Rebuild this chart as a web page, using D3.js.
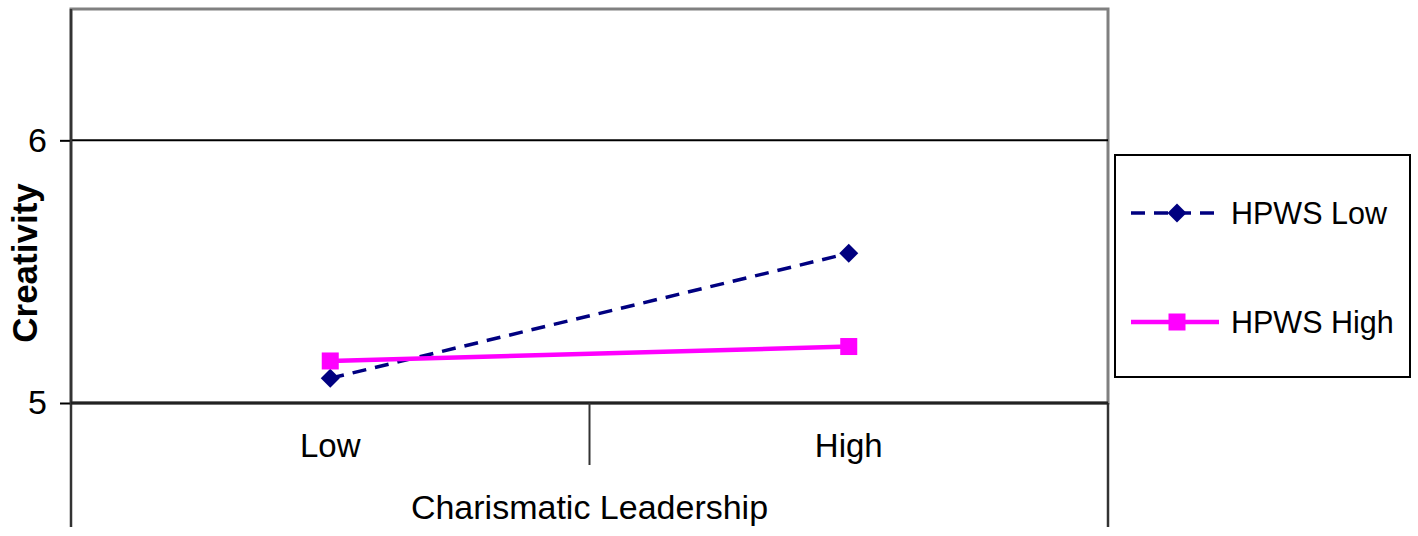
<!DOCTYPE html>
<html>
<head>
<meta charset="utf-8">
<script src="https://cdn.jsdelivr.net/npm/d3@7"></script>
<style>
html,body{margin:0;padding:0;background:#fff;}
svg{display:block;font-family:"Liberation Sans",Arial,sans-serif;}
</style>
</head>
<body>
<svg id="chart" width="1418" height="536"></svg>
<script>
const categories = ["Low", "High"];
const seriesNames = ["HPWS Low", "HPWS High"];
const hpwsLow = [5.094, 5.57];
const hpwsHigh = [5.16, 5.215];
const yTicks = [5, 6];
const yDomain = [5, 6.5];
const xTitle = "Charismatic Leadership";
const yTitle = "Creativity";

const svg = d3.select("#chart");
const L = 71, R = 1108, T = 9, B = 403;

const x = d3.scaleBand().domain(categories).range([L, R]).padding(0);
const y = d3.scaleLinear().domain(yDomain).range([B, T]);

// plot area border (grey)
svg.append("rect").attr("x", L).attr("y", T).attr("width", R - L).attr("height", B - T)
  .attr("fill", "none").attr("stroke", "#808080").attr("stroke-width", 3);

// gridline at 6
svg.append("g").selectAll("line").data(yTicks.filter(d => d !== yDomain[0])).join("line")
  .attr("x1", L).attr("x2", R).attr("y1", d => y(d)).attr("y2", d => y(d))
  .attr("stroke", "#000").attr("stroke-width", 2);

// y axis
const yAxis = d3.axisLeft(y).tickValues(yTicks).tickSize(11).tickPadding(13).tickFormat(d3.format("d"));
const gy = svg.append("g").attr("transform", `translate(${L},0)`).call(yAxis);
gy.select(".domain").remove();
gy.selectAll(".tick line").attr("stroke", "#000").attr("stroke-width", 2);
gy.selectAll(".tick text").attr("font-size", 34).attr("fill", "#000")
  .attr("font-family", "Liberation Sans, Arial, sans-serif");

// left axis line extends down
svg.append("line").attr("x1", L).attr("x2", L).attr("y1", T).attr("y2", 527)
  .attr("stroke", "#333").attr("stroke-width", 2.5);
svg.append("line").attr("x1", R).attr("x2", R).attr("y1", B).attr("y2", 527)
  .attr("stroke", "#333").attr("stroke-width", 2.5);
// x axis line
svg.append("line").attr("x1", L).attr("x2", R).attr("y1", B).attr("y2", B)
  .attr("stroke", "#222").attr("stroke-width", 3);
// category separator tick
svg.append("g").selectAll("line").data(categories.slice(1)).join("line")
  .attr("x1", d => x(d)).attr("x2", d => x(d)).attr("y1", B).attr("y2", 465)
  .attr("stroke", "#333").attr("stroke-width", 2);

// category labels
svg.append("g").selectAll("text").data(categories).join("text")
  .attr("x", d => x(d) + x.bandwidth() / 2).attr("y", 457)
  .attr("text-anchor", "middle").attr("font-size", 33).attr("fill", "#000")
  .text(d => d);

// x title
svg.append("text").attr("x", (L + R) / 2).attr("y", 519).attr("text-anchor", "middle")
  .attr("font-size", 34).attr("fill", "#000").text(xTitle);

// y title
svg.append("text").attr("transform", `translate(37,263) rotate(-90)`).attr("text-anchor", "middle")
  .attr("font-size", 35).attr("font-weight", "bold").attr("fill", "#000").text(yTitle);

const cx = d => x(d) + x.bandwidth() / 2;
const line = d3.line().x(d => cx(d.c)).y(d => y(d.v));
const lowData = categories.map((c, i) => ({c, v: hpwsLow[i]}));
const highData = categories.map((c, i) => ({c, v: hpwsHigh[i]}));

// HPWS Low (dashed navy, diamonds)
svg.append("path").datum(lowData).attr("d", line).attr("fill", "none")
  .attr("stroke", "#000080").attr("stroke-width", 3.5).attr("stroke-dasharray", "14,9");
// HPWS High (magenta solid, squares)
svg.append("path").datum(highData).attr("d", line).attr("fill", "none")
  .attr("stroke", "#FF00FF").attr("stroke-width", 4.5);

const diamond = d3.symbol().type(d3.symbolSquare).size(180);
svg.append("g").selectAll("path").data(lowData).join("path")
  .attr("d", diamond).attr("fill", "#000080")
  .attr("transform", d => `translate(${cx(d.c)},${y(d.v)}) rotate(45)`);
svg.append("g").selectAll("rect").data(highData).join("rect")
  .attr("x", d => cx(d.c) - 8.5).attr("y", d => y(d.v) - 8.5)
  .attr("width", 17).attr("height", 17).attr("fill", "#FF00FF");

// legend
const lg = svg.append("g");
lg.append("rect").attr("x", 1115).attr("y", 155).attr("width", 295).attr("height", 222)
  .attr("fill", "#fff").attr("stroke", "#000").attr("stroke-width", 2);
const items = [
  {name: seriesNames[0], yy: 213, color: "#000080", dash: "14,9", w: 3.5, mk: "diamond"},
  {name: seriesNames[1], yy: 322, color: "#FF00FF", dash: null, w: 4.5, mk: "square"}
];
items.forEach(it => {
  lg.append("line").attr("x1", 1131).attr("x2", 1219).attr("y1", it.yy).attr("y2", it.yy)
    .attr("stroke", it.color).attr("stroke-width", it.w).attr("stroke-dasharray", it.dash);
  if (it.mk === "diamond") {
    lg.append("path").attr("d", diamond).attr("fill", it.color)
      .attr("transform", `translate(1177,${it.yy}) rotate(45)`);
  } else {
    lg.append("rect").attr("x", 1177 - 8.5).attr("y", it.yy - 8.5).attr("width", 17).attr("height", 17)
      .attr("fill", it.color);
  }
  lg.append("text").attr("x", 1231).attr("y", it.yy + 11).attr("font-size", 30.5).attr("fill", "#000")
    .text(it.name);
});
</script>
</body>
</html>
